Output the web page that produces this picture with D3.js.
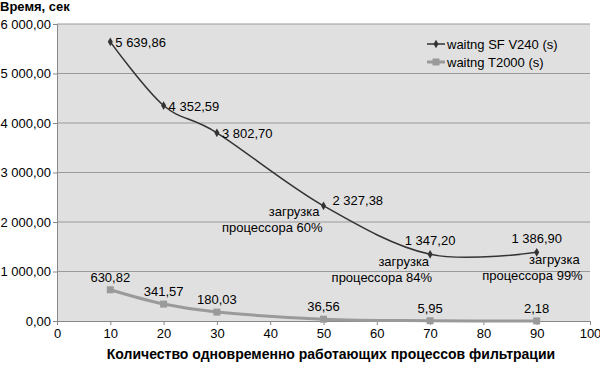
<!DOCTYPE html>
<html>
<head>
<meta charset="utf-8">
<script src="https://cdn.jsdelivr.net/npm/d3@7"></script>
<style>
  body { margin: 0; background: #fff; }
  text { font-family: "Liberation Sans", Arial, sans-serif; fill: #000; }
</style>
</head>
<body>
<div id="container"></div>
<script>
// data
const xValues = [10, 20, 30, 50, 70, 90];
const sfV240 = [5639.86, 4352.59, 3802.70, 2327.38, 1347.20, 1386.90];
const t2000 = [630.82, 341.57, 180.03, 36.56, 5.95, 2.18];
const seriesNames = ["waitng SF V240 (s)", "waitng T2000 (s)"];
const xTicks = [0, 10, 20, 30, 40, 50, 60, 70, 80, 90, 100];
const yTicks = [0, 1000, 2000, 3000, 4000, 5000, 6000];
const loadNotes = [
  { x: 50, text: "процессора 60%" },
  { x: 70, text: "процессора 84%" },
  { x: 90, text: "процессора 99%" }
];

const width = 600;
const height = 365;
const marginTop = 24;
const marginRight = 10;
const marginBottom = 44;
const marginLeft = 57;

// number format like "5 639,86"
const ru = d3.formatLocale({ decimal: ",", thousands: "\u00a0", grouping: [3], currency: ["", ""] });
const fmt = ru.format(",.2f");

const svg = d3.select("#container")
  .append("svg")
  .attr("width", width)
  .attr("height", height);

const x = d3.scaleLinear().domain([0, 100]).range([marginLeft, width - marginRight]);
const y = d3.scaleLinear().domain([0, 6000]).range([height - marginBottom, marginTop]);

// plot background
svg.append("rect")
  .attr("x", x(0)).attr("y", y(6000))
  .attr("width", x(100) - x(0)).attr("height", y(0) - y(6000))
  .attr("fill", "#e0e0e0");

// gridlines
svg.append("g")
  .selectAll("line")
  .data(yTicks.filter(d => d > 0))
  .join("line")
  .attr("x1", x(0)).attr("x2", x(100))
  .attr("y1", d => y(d)).attr("y2", d => y(d))
  .attr("stroke", "#9a9a9a");

// axes
const yAxis = svg.append("g")
  .attr("transform", `translate(${x(0)},0)`)
  .call(d3.axisLeft(y).tickValues(yTicks).tickFormat(fmt).tickSize(4).tickPadding(2));
const xAxis = svg.append("g")
  .attr("transform", `translate(0,${y(0)})`)
  .call(d3.axisBottom(x).tickValues(xTicks).tickSize(4).tickPadding(4));
[yAxis, xAxis].forEach(a => {
  a.select(".domain").attr("stroke", "#888");
  a.selectAll(".tick line").attr("stroke", "#888");
  a.selectAll("text").attr("font-size", 13).attr("fill", "#000");
});

// lines
const pts1 = xValues.map((d, i) => [d, sfV240[i]]);
const pts2 = xValues.map((d, i) => [d, t2000[i]]);
const line = d3.line()
  .x(d => x(d[0]))
  .y(d => y(d[1]))
  .curve(d3.curveCatmullRom.alpha(0));

svg.append("path")
  .attr("d", line(pts2))
  .attr("fill", "none")
  .attr("stroke", "#9a9a9a")
  .attr("stroke-width", 3);

svg.append("g")
  .selectAll("rect")
  .data(pts2)
  .join("rect")
  .attr("x", d => x(d[0]) - 3.5).attr("y", d => y(d[1]) - 3.5)
  .attr("width", 7).attr("height", 7)
  .attr("fill", "#9a9a9a");

svg.append("path")
  .attr("d", line(pts1))
  .attr("fill", "none")
  .attr("stroke", "#333")
  .attr("stroke-width", 1.5);

const diamond = d3.symbol().type(d3.symbolDiamond).size(22);
svg.append("g")
  .selectAll("path")
  .data(pts1)
  .join("path")
  .attr("transform", d => `translate(${x(d[0])},${y(d[1])})`)
  .attr("d", diamond)
  .attr("fill", "#333");

// value labels for the first series
svg.append("g")
  .selectAll("text")
  .data(pts1)
  .join("text")
  .attr("font-size", 13)
  .attr("x", (d, i) => i < 3 ? x(d[0]) + 5 : i === 3 ? x(d[0]) + 9 : x(d[0]))
  .attr("y", (d, i) => i < 3 ? y(d[1]) + 5 : i === 3 ? y(d[1]) - 1 : y(d[1]) - 9)
  .attr("text-anchor", (d, i) => i < 4 ? "start" : "middle")
  .text(d => fmt(d[1]));

// value labels for the second series
svg.append("g")
  .selectAll("text")
  .data(pts2)
  .join("text")
  .attr("font-size", 13)
  .attr("x", d => x(d[0]))
  .attr("y", d => y(d[1]) - 8)
  .attr("text-anchor", "middle")
  .text(d => fmt(d[1]));

// CPU load notes (right aligned under the point)
const noteX = d => d.x === 50 ? x(d.x) - 1 : d.x === 70 ? x(d.x) + 2 : x(d.x) + 46;
const notes = svg.append("g")
  .selectAll("text")
  .data(loadNotes)
  .join("text")
  .attr("font-size", 13)
  .attr("text-anchor", "end")
  .attr("y", d => y(sfV240[xValues.indexOf(d.x)]) + (d.x === 50 ? 10 : 12));
notes.append("tspan").attr("x", d => noteX(d) - 3).text("загрузка");
notes.append("tspan")
  .attr("x", noteX)
  .attr("dy", 16)
  .text(d => d.text);

// legend
const legend = svg.append("g").attr("transform", "translate(427,44)");
[["#333", 1.5], ["#9a9a9a", 3]].forEach(([c, w], i) => {
  const g = legend.append("g").attr("transform", `translate(0,${i * 18})`);
  g.append("line").attr("x1", 0).attr("x2", 18).attr("stroke", c).attr("stroke-width", w);
  if (i === 0) g.append("path").attr("transform", "translate(9,0)").attr("d", diamond).attr("fill", c);
  else g.append("rect").attr("x", 5.5).attr("y", -3.5).attr("width", 7).attr("height", 7).attr("fill", c);
  g.append("text").attr("x", 20).attr("y", 5).attr("font-size", 13).text(seriesNames[i]);
});

// axis titles
svg.append("text")
  .attr("x", 0).attr("y", 11)
  .attr("font-size", 13).attr("font-weight", "bold")
  .text("Время, сек");
svg.append("text")
  .attr("x", 331).attr("y", 359)
  .attr("text-anchor", "middle")
  .attr("font-size", 14).attr("font-weight", "bold")
  .text("Количество одновременно работающих процессов фильтрации");
</script>
</body>
</html>
